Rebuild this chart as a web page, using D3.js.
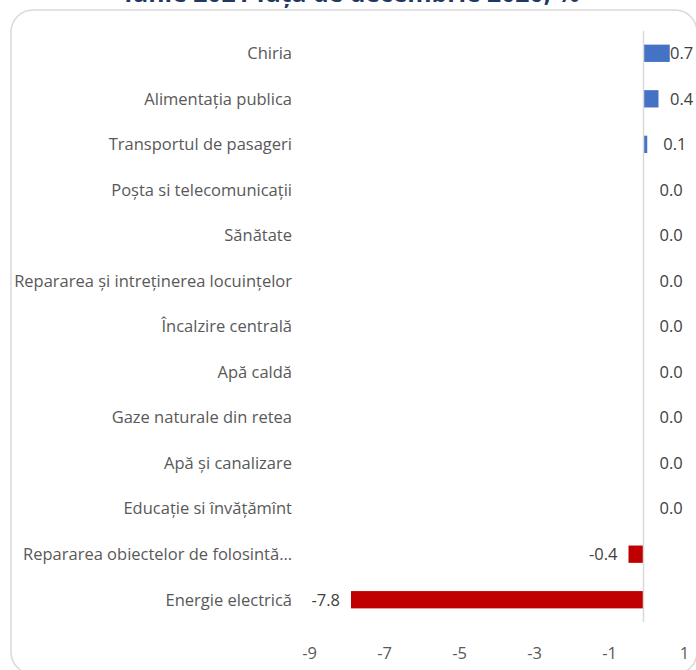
<!DOCTYPE html>
<html><head><meta charset="utf-8">
<script src="https://cdn.jsdelivr.net/npm/d3@7"></script>
<style>html,body{margin:0;padding:0;background:#fff;}svg{display:block;}</style>
</head><body>
<svg id="c" width="696" height="670"></svg>
<script>
const categories = ["Chiria","Alimentația publica","Transportul de pasageri","Poșta si telecomunicații","Sănătate","Repararea și intreținerea locuințelor","Încalzire centrală","Apă caldă","Gaze naturale din retea","Apă și canalizare","Educație si învățămînt","Repararea obiectelor de folosintă…","Energie electrică"];
const values = [0.7,0.4,0.1,0.0,0.0,0.0,0.0,0.0,0.0,0.0,0.0,-0.4,-7.8];
const tickValues = [-9,-7,-5,-3,-1,1];
const title = "iunie 2021 față de decembrie 2020, %";

const svg = d3.select("#c");
const font = "'Open Sans', Lato, sans-serif";

svg.append("rect").attr("x",11).attr("y",10).attr("width",686).attr("height",664)
  .attr("rx",22).attr("fill","#fff").attr("stroke","#d9d9d9").attr("stroke-width",1.5);

const t = svg.append("text").attr("x",352).attr("y",2).attr("text-anchor","middle")
  .attr("font-family",font).attr("font-weight","bold").attr("font-size",20)
  .attr("fill","#1f3864").text(title);
const tw = t.node().getComputedTextLength();
t.attr("font-size", 20*455/tw);

const x = d3.scaleLinear().domain([-9,1]).range([306,681]);
const y = d3.scaleBand().domain(categories).range([30.5,622.5]).paddingInner(0.62).paddingOuter(0.31);

const data = categories.map((c,i)=>({c, v: values[i]}));

svg.append("g").selectAll("rect").data(data).join("rect")
  .attr("x", d => x(Math.min(0,d.v)))
  .attr("width", d => Math.abs(x(d.v)-x(0)))
  .attr("y", d => y(d.c))
  .attr("height", y.bandwidth())
  .attr("fill", d => d.v < 0 ? "#c00000" : "#4472c4");

svg.append("line").attr("x1",x(0)).attr("x2",x(0)).attr("y1",31).attr("y2",622)
  .attr("stroke","#d9d9d9").attr("stroke-width",1.5);

// category labels
const cl = svg.append("g").selectAll("text").data(data).join("text")
  .attr("x",292).attr("y", d => y(d.c)+y.bandwidth()/2).attr("dy","0.35em")
  .attr("text-anchor","end").attr("font-family",font).attr("font-size",15)
  .attr("fill","#595959").text(d => d.c);
const maxW = d3.max(cl.nodes(), n => n.getComputedTextLength());
const fs = 15*278/maxW;
cl.attr("font-size", fs);

// value labels
svg.append("g").selectAll("text").data(data).join("text")
  .attr("x", d => d.v < 0 ? x(d.v)-11 : Math.min(x(d.v)+16, 670))
  .attr("y", d => y(d.c)+y.bandwidth()/2).attr("dy","0.35em")
  .attr("text-anchor", d => d.v < 0 ? "end" : "start")
  .attr("font-family",font).attr("font-size",fs).attr("fill","#404040")
  .text(d => d3.format(".1f")(d.v).replace("−","-"));

// x axis
const ax = svg.append("g").attr("transform","translate(0,622)")
  .call(d3.axisBottom(x).tickValues(tickValues).tickSize(0).tickPadding(25).tickFormat(d => String(d)));
ax.select(".domain").remove();
ax.selectAll("text").attr("font-family",font).attr("font-size",fs).attr("fill","#595959")
  .attr("dx",3);
</script>
</body></html>
